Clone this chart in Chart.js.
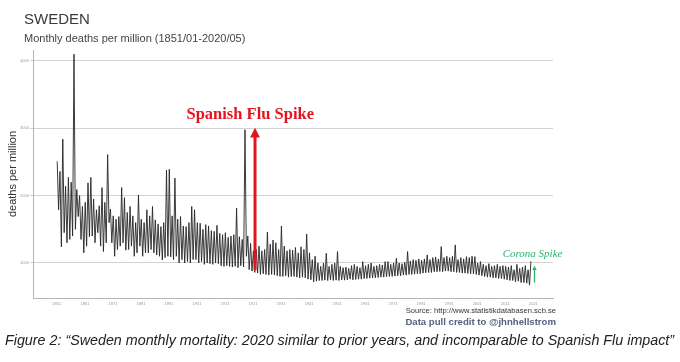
<!DOCTYPE html>
<html>
<head>
<meta charset="utf-8">
<script src="https://cdn.jsdelivr.net/npm/chart.js@4.4.1/dist/chart.umd.min.js"></script>
<style>
  html, body { margin: 0; padding: 0; background: #fff; }
  body { width: 680px; height: 362px; position: relative; overflow: hidden; font-family: 'Liberation Sans', Arial, sans-serif; }
  #wrap { position: absolute; left: 0; top: 0; width: 680px; height: 362px; }
  .t { position: absolute; white-space: nowrap; }
  #title    { left: 24px; top: 10px; font-size: 15px; color: #3a3a3a; }
  #subtitle { left: 24px; top: 32px; font-size: 11px; color: #444; }
  #source   { right: 124px; top: 306px; font-size: 7.6px; color: #333; }
  #credit   { right: 124px; top: 316px; font-size: 9.6px; font-weight: bold; color: #55617f; }
  #caption  { left: 5px; top: 332px; font-size: 14.3px; font-style: italic; color: #222; }
</style>
</head>
<body>
<div id="wrap"><canvas id="chart"></canvas></div>
<div class="t" id="title">SWEDEN</div>
<div class="t" id="subtitle">Monthly deaths per million (1851/01-2020/05)</div>
<div class="t" id="source">Source: http://www.statistikdatabasen.scb.se</div>
<div class="t" id="credit">Data pull credit to @jhnhellstrom</div>
<div class="t" id="caption">Figure 2: “Sweden monthly mortality: 2020 similar to prior years, and incomparable to Spanish Flu impact”</div>

<script>
// Values: one winter peak and one summer low per year
const FIRST_YEAR = 1851;
const PEAK_MONTH = 2;   // Feb
const LOW_MONTH  = 8;   // Aug

// winter peaks 1851..2020 (deaths per million per month)
const winterPeaks = [
  2510, 2360, 2840, 2140, 2270, 2200, 4100, 2090, 2000, 1840,   // 1851-1860
  1900, 2190, 2270, 1950, 1790, 1850, 2120, 1900, 2610, 1800,   // 1861-1870
  1700, 1650, 1690, 2120, 1970, 1750, 1840, 1700, 1600, 2010,   // 1871-1880
  1650, 1600, 1790, 1700, 1840, 1640, 1580, 1540, 1600, 2380,   // 1881-1890
  2390, 1700, 2260, 1650, 1690, 1550, 1540, 1600, 1840, 1790,   // 1891-1900
  1600, 1590, 1500, 1570, 1550, 1480, 1470, 1560, 1440, 1420,   // 1901-1910
  1450, 1380, 1400, 1420, 1815, 1390, 1350, 2980, 1400, 1290,   // 1911-1920
  1180, 1200, 1250, 1180, 1200, 1460, 1280, 1340, 1300, 1200,   // 1921-1930
  1550, 1250, 1180, 1200, 1190, 1230, 1150, 1240, 1200, 1430,   // 1931-1940
  1150, 1050, 1100, 1000,  950, 1000, 1144,  950,  980, 1000,   // 1941-1950
  1170,  950,  930,  940,  920,  960,  980,  950,  930, 1020,   // 1951-1960
   960,  980, 1000,  950,  960,  980,  970, 1020, 1020,  980,   // 1961-1970
  1000, 1070, 1000,  990, 1010, 1170, 1030, 1050, 1040, 1060,   // 1971-1980
  1040, 1060, 1120, 1050, 1080, 1090, 1060, 1243, 1080, 1100,   // 1981-1990
  1080, 1100, 1268, 1050, 1080, 1060, 1094, 1080, 1100, 1094,   // 1991-2000
  1000, 1020,  980,  960,  990,  950,  960,  980,  950,  960,   // 2001-2010
   950,  940,  960,  900,  980,  920,  940,  960,  900, 1025    // 2011-2020
];

// summer lows 1851..2019
const summerLows = [
  1790, 1240, 1450, 1300, 1350, 1400, 1500, 1690, 1350, 1150,   // 1851-1860
  1250, 1390, 1400, 1300, 1450, 1250, 1170, 1300, 1600, 1300,   // 1861-1870
  1100, 1200, 1250, 1300, 1190, 1200, 1250, 1100, 1150, 1250,   // 1871-1880
  1100, 1150, 1150, 1200, 1150, 1120, 1100, 1045, 1080, 1100,   // 1881-1890
  1090, 1050, 1100, 1000, 1050, 1000, 1020, 1000, 1050, 1050,   // 1891-1900
  1000, 1020,  980, 1000,  990,  980, 1000,  990,  960,  950,   // 1901-1910
   960,  950,  940,  950,  930,  960,  940, 1100,  900,  880,   // 1911-1920
   860,  850,  830,  840,  830,  820,  830,  820,  810,  800,   // 1921-1930
   800,  810,  790,  800,  800,  790,  780,  790,  780,  760,   // 1931-1940
   750,  720,  730,  740,  740,  745,  740,  750,  740,  745,   // 1941-1950
   740,  750,  745,  750,  760,  750,  755,  760,  760,  770,   // 1951-1960
   770,  775,  780,  780,  785,  790,  790,  795,  800,  800,   // 1961-1970
   805,  810,  810,  820,  820,  830,  830,  835,  840,  840,   // 1971-1980
   850,  855,  860,  860,  870,  870,  875,  870,  880,  880,   // 1981-1990
   870,  870,  860,  860,  850,  850,  845,  840,  840,  830,   // 1991-2000
   820,  810,  800,  790,  790,  780,  780,  770,  770,  760,   // 2001-2010
   750,  740,  740,  720,  730,  710,  710,  700,  672          // 2011-2019
];

const yTicks = [1000, 2000, 3000, 4000];
const xTicks = [1851, 1861, 1871, 1881, 1891, 1901, 1911, 1921, 1931, 1941,
                1951, 1961, 1971, 1981, 1991, 2001, 2011, 2021];

// annotations, in data units
const spanishFlu = { label: 'Spanish Flu Spike', year: 1921.7, from: 895, to: 3010, textYear: 1920, textValue: 3200 };
const corona     = { label: 'Corona Spike',      year: 2021.4, from: 710, to: 960,  textYear: 2020.7, textValue: 1134 };

const points = [];
winterPeaks.forEach((v, i) => {
  const yr = FIRST_YEAR + i;
  points.push({ x: yr + (PEAK_MONTH - 0.5) / 12, y: v });
  if (summerLows[i] !== undefined) points.push({ x: yr + (LOW_MONTH - 0.5) / 12, y: summerLows[i] });
});

function arrow(ctx, x, y0, y1, color, width, head) {
  ctx.save();
  ctx.strokeStyle = color; ctx.fillStyle = color; ctx.lineWidth = width;
  ctx.beginPath(); ctx.moveTo(x, y0); ctx.lineTo(x, y1 + head); ctx.stroke();
  ctx.beginPath();
  ctx.moveTo(x, y1); ctx.lineTo(x - head * 0.55, y1 + head * 1.1); ctx.lineTo(x + head * 0.55, y1 + head * 1.1);
  ctx.closePath(); ctx.fill();
  ctx.restore();
}

const annotations = {
  id: 'annotations',
  afterDatasetsDraw(chart) {
    const { ctx, scales: { x, y } } = chart;
    // red
    arrow(ctx, x.getPixelForValue(spanishFlu.year), y.getPixelForValue(spanishFlu.from),
          y.getPixelForValue(spanishFlu.to), '#e5131d', 3, 9);
    ctx.save();
    ctx.font = 'bold 16.5px "Liberation Serif", "Times New Roman", serif';
    ctx.fillStyle = '#e5131d'; ctx.textAlign = 'center'; ctx.textBaseline = 'middle';
    ctx.fillText(spanishFlu.label, x.getPixelForValue(spanishFlu.textYear), y.getPixelForValue(spanishFlu.textValue));
    // green
    arrow(ctx, x.getPixelForValue(corona.year), y.getPixelForValue(corona.from),
          y.getPixelForValue(corona.to), '#27b46e', 1.3, 4);
    ctx.font = 'italic 11px "Liberation Serif", "Times New Roman", serif';
    ctx.fillStyle = '#27b46e';
    ctx.fillText(corona.label, x.getPixelForValue(corona.textYear), y.getPixelForValue(corona.textValue));
    ctx.restore();
  }
};

new Chart(document.getElementById('chart'), {
  type: 'line',
  data: {
    datasets: [{
      data: points,
      borderColor: '#262626', borderWidth: 0.9,
      pointRadius: 0, tension: 0, fill: false
    }]
  },
  options: {
    responsive: true, maintainAspectRatio: false, animation: false,
    layout: { padding: { left: 0, top: 50, right: 127, bottom: 54 } },
    plugins: { legend: { display: false }, tooltip: { enabled: false } },
    scales: {
      x: {
        type: 'linear', min: 1842.5, max: 2028,
        afterFit: s => { s.height = 10; },
        afterBuildTicks: s => { s.ticks = xTicks.map(v => ({ value: v })); },
        grid: { display: false, drawTicks: true, tickLength: 2 },
        border: { color: '#b5b5b5', width: 1 },
        ticks: { color: '#999', font: { size: 4, family: 'Liberation Sans' }, padding: 1, maxRotation: 0, autoSkip: false,
                 callback: v => String(v) }
      },
      y: {
        min: 480, max: 4163,
        afterFit: s => { s.width = 33; },
        afterBuildTicks: s => { s.ticks = yTicks.map(v => ({ value: v })); },
        grid: { color: '#d2d2d2', lineWidth: 1, tickLength: 3 },
        border: { color: '#b5b5b5', width: 1 },
        ticks: { color: '#999', font: { size: 4, family: 'Liberation Sans' }, padding: 1, callback: v => String(v) },
        title: { display: true, text: 'deaths per million', color: '#333',
                 font: { size: 11, family: 'Liberation Sans' }, padding: { top: 6, bottom: 0 } }
      }
    }
  },
  plugins: [annotations]
});
</script>
</body>
</html>
